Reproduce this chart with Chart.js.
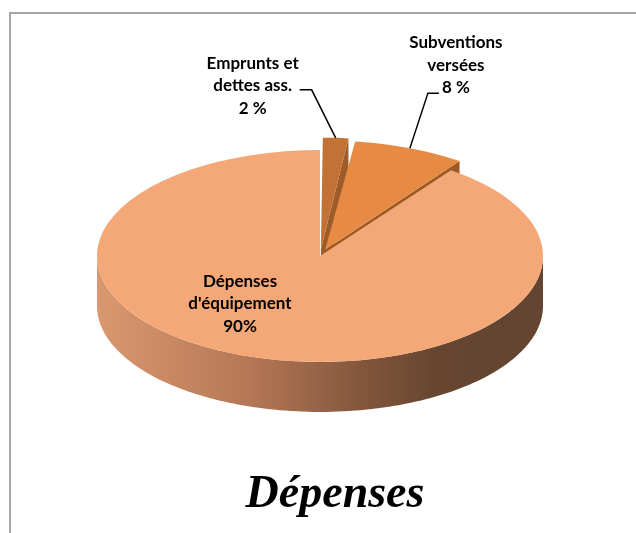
<!DOCTYPE html>
<html>
<head>
<meta charset="utf-8">
<title>Dépenses</title>
<script src="https://cdn.jsdelivr.net/npm/chart.js@4/dist/chart.umd.min.js"></script>
<style>
    html, body { margin: 0; padding: 0; background: #fff; }
    #wrap { position: relative; width: 636px; height: 533px; overflow: hidden; }
    #frame { position: absolute; left: 9px; top: 12px; width: 700px; height: 600px;
             border-left: 2px solid #a6a6a6; border-top: 2px solid #a6a6a6; }
    #chart { position: absolute; left: 0; top: 0; }
</style>
</head>
<body>
<div id="wrap">
    <div id="frame"></div>
    <canvas id="chart" width="636" height="533"></canvas>
</div>
<script>
// Chart data
const sliceLabels = ['Emprunts et dettes ass.', 'Subventions versées', "Dépenses d'équipement"];
const sliceValues = [2, 8, 90];
const valueTexts = ['2 %', '8 %', '90%'];
const labelLines = [['Emprunts et', 'dettes ass.'], ['Subventions', 'versées'], ['Dépenses', "d'équipement"]];
const topColors = ['#C27234', '#E68A44', '#F4A877'];
const faceColors = ['#9E5C28', '#9C5A25', '#A86C4C'];
const explodeOffsets = [56, 56, 0];
const chartTitle = 'Dépenses';

// 3d look
const TILT = 0.475;
const DEPTH = 50;

// same geometry as Chart.js ArcElement uses when it draws an offset slice
function sliceGeom(arc) {
    const p = arc.getProps(['x', 'y', 'startAngle', 'endAngle', 'outerRadius', 'circumference'], true);
    const off = (arc.options.offset || 0) / 4;
    const mid = (p.startAngle + p.endAngle) / 2;
    const fix = 1 - Math.sin(Math.min(Math.PI, p.circumference || 0));
    const rOff = off * fix;
    const R = p.outerRadius + rOff;
    const alpha = p.endAngle - p.startAngle;
    const beta = Math.max(0.001, alpha * R - rOff / Math.PI) / R;
    const ao = (alpha - beta) / 2;
    return {
        cx: p.x + Math.cos(mid) * off,
        cy: p.y + Math.sin(mid) * off,
        R: R, a0: p.startAngle + ao, a1: p.endAngle - ao, mid: mid, pivot: p.y
    };
}

function sy(g, y) {
    return g.pivot + (y - g.pivot) * TILT;
}

const pie3d = {
    id: 'pie3d',
    beforeDatasetsDraw(chart) {
        const ctx = chart.ctx;
        const meta = chart.getDatasetMeta(0);
        ctx.save();
        meta.data.forEach((arc, i) => {
            const g = sliceGeom(arc);
            // radial cut faces
            [[g.a1, Math.cos(g.a1) > 0.01], [g.a0, -Math.cos(g.a0) > 0.01]].forEach(([a, visible]) => {
                if (!visible || explodeOffsets[i] === 0) return;
                const px = g.cx + Math.cos(a) * g.R;
                const py = sy(g, g.cy + Math.sin(a) * g.R);
                const qy = sy(g, g.cy);
                ctx.beginPath();
                ctx.moveTo(g.cx, qy);
                ctx.lineTo(px, py);
                ctx.lineTo(px, py + DEPTH);
                ctx.lineTo(g.cx, qy + DEPTH);
                ctx.closePath();
                ctx.fillStyle = faceColors[i];
                ctx.fill();
            });
            // curved outer side, front half only
            const s = Math.max(g.a0, 0);
            const e = Math.min(g.a1, Math.PI);
            if (e > s) {
                const steps = 120;
                ctx.beginPath();
                for (let k = 0; k <= steps; k++) {
                    const t = s + (e - s) * k / steps;
                    const x = g.cx + Math.cos(t) * g.R;
                    const y = sy(g, g.cy + Math.sin(t) * g.R);
                    if (k === 0) ctx.moveTo(x, y); else ctx.lineTo(x, y);
                }
                for (let k = steps; k >= 0; k--) {
                    const t = s + (e - s) * k / steps;
                    ctx.lineTo(g.cx + Math.cos(t) * g.R, sy(g, g.cy + Math.sin(t) * g.R) + DEPTH);
                }
                ctx.closePath();
                const grad = ctx.createLinearGradient(g.cx - g.R, 0, g.cx + g.R, 0);
                grad.addColorStop(0, '#D9986F');
                grad.addColorStop(0.35, '#B47654');
                grad.addColorStop(0.62, '#7E533A');
                grad.addColorStop(0.76, '#664631');
                grad.addColorStop(1, '#634430');
                ctx.fillStyle = grad;
                ctx.fill();
            }
        });
        ctx.restore();

        // squash the flat pie into the top face
        const g0 = sliceGeom(meta.data[0]);
        ctx.save();
        ctx.translate(0, g0.pivot);
        ctx.scale(1, TILT);
        ctx.translate(0, -g0.pivot);
    },
    afterDatasetsDraw(chart) {
        chart.ctx.restore();
    },
    afterDraw(chart) {
        const ctx = chart.ctx;
        const meta = chart.getDatasetMeta(0);
        const g = meta.data.map(sliceGeom);
        const lineH = 22.5;
        ctx.save();
        ctx.fillStyle = '#000';
        ctx.strokeStyle = '#000';
        ctx.lineWidth = 1.5;
        ctx.font = 'bold 17px Lato';
        ctx.textAlign = 'center';
        ctx.textBaseline = 'middle';

        // labels with leader lines (small slices)
        const leaders = [
            {dx: -24, dy: -48, tail: -12, tx: -47, ty: -4},
            {dx: 18, dy: -55, tail: 11, tx: 17, ty: -28}
        ];
        leaders.forEach((l, i) => {
            const a = g[i];
            const ax = a.cx + Math.cos(a.mid) * a.R;
            const ay = sy(a, a.cy + Math.sin(a.mid) * a.R);
            const ex = ax + l.dx, ey = ay + l.dy;
            ctx.beginPath();
            ctx.moveTo(ax, ay);
            ctx.lineTo(ex, ey);
            ctx.lineTo(ex + l.tail, ey);
            ctx.stroke();
            const lines = labelLines[i].concat([valueTexts[i]]);
            const tx = ex + l.tail + l.tx;
            const ty = ey + l.ty;
            lines.forEach((t, k) => ctx.fillText(t, tx, ty + (k - 1) * lineH));
        });

        // big slice label inside
        const m = g[2];
        const lines = labelLines[2].concat([valueTexts[2]]);
        lines.forEach((t, k) => ctx.fillText(t, m.cx - 80, m.pivot + 48 + (k - 1) * lineH));

        // title under the pie
        ctx.font = 'italic bold 46px "Liberation Serif"';
        ctx.textBaseline = 'alphabetic';
        ctx.fillText(chartTitle, 335, 507);
        ctx.restore();
    }
};

new Chart(document.getElementById('chart').getContext('2d'), {
    type: 'pie',
    data: {
        labels: sliceLabels,
        datasets: [{
            data: sliceValues,
            backgroundColor: topColors,
            borderWidth: 0,
            offset: explodeOffsets,
            radius: 223,
            clip: false
        }]
    },
    options: {
        responsive: false,
        animation: false,
        layout: { padding: { left: 4, right: 0, top: 0, bottom: 21 } },
        plugins: {
            legend: { display: false },
            tooltip: { enabled: false },
            title: { display: false }
        }
    },
    plugins: [pie3d]
});
</script>
</body>
</html>
